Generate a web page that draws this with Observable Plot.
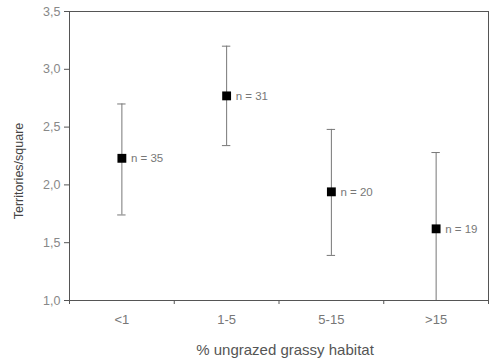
<!DOCTYPE html>
<html>
<head>
<meta charset="utf-8">
<script src="https://cdn.jsdelivr.net/npm/d3@7"></script>
<script src="https://cdn.jsdelivr.net/npm/@observablehq/plot@0.6"></script>
<style>
  html, body { margin: 0; padding: 0; background: #fff; }
  svg { display: block; }
</style>
</head>
<body>
<div id="chart"></div>
<script>
const categories = ["<1", "1-5", "5-15", ">15"];
const means = [2.23, 2.77, 1.94, 1.62];
const upper = [2.70, 3.20, 2.48, 2.28];
const lower = [1.74, 2.34, 1.39, 0.96];
const counts = [35, 31, 20, 19];
const yTicks = [1.0, 1.5, 2.0, 2.5, 3.0, 3.5];

const data = categories.map((c, i) => ({
  cat: c, xi: i + 0.5, mean: means[i], hi: upper[i], lo: lower[i], n: counts[i]
}));
const capW = 0.04;
const font = "Liberation Sans, Arial, sans-serif";

const chart = Plot.plot({
  width: 494,
  height: 362,
  marginLeft: 69,
  marginRight: 6,
  marginTop: 11,
  marginBottom: 62,
  style: { fontFamily: font, background: "#fff" },
  x: { domain: [0, 4] },
  y: { domain: [1, 3.5] },
  marks: [
    Plot.axisY({ ticks: yTicks, tickFormat: d => d.toFixed(1).replace(".", ","), tickSize: 5, tickPadding: 4, fontSize: 12.5, color: "#888", stroke: "#555", label: null }),
    Plot.axisX({ ticks: [0, 1, 2, 3, 4], tickSize: 4, tickFormat: () => "", stroke: "#555", label: null }),
    Plot.axisX({ ticks: data.map(d => d.xi), tickSize: 0, tickPadding: 14, tickFormat: (d, i) => categories[i], fontSize: 13, color: "#777", label: null }),
    Plot.frame({ stroke: "#555" }),
    Plot.ruleX(data, { x: "xi", y1: "lo", y2: "hi", stroke: "#777", strokeWidth: 1, clip: true }),
    Plot.ruleY(data, { y: "hi", x1: d => d.xi - capW, x2: d => d.xi + capW, stroke: "#777", clip: true }),
    Plot.ruleY(data.filter(d => d.lo >= 1), { y: "lo", x1: d => d.xi - capW, x2: d => d.xi + capW, stroke: "#777", clip: true }),
    Plot.dot(data, { x: "xi", y: "mean", symbol: "square", fill: "#000", r: 5 }),
    Plot.text(data, { x: "xi", y: "mean", text: d => `n = ${d.n}`, dx: 9, textAnchor: "start", fill: "#777", fontSize: 11.5 }),
    Plot.text(["Territories/square"], { frameAnchor: "left", textAnchor: "middle", dx: -51, dy: 15, rotate: -90, fontSize: 12.5, fill: "#444" }),
    Plot.text(["% ungrazed grassy habitat"], { frameAnchor: "bottom", textAnchor: "middle", dx: 6, dy: 54, fontSize: 15, fill: "#555" })
  ]
});
document.getElementById("chart").appendChild(chart);
</script>
</body>
</html>
